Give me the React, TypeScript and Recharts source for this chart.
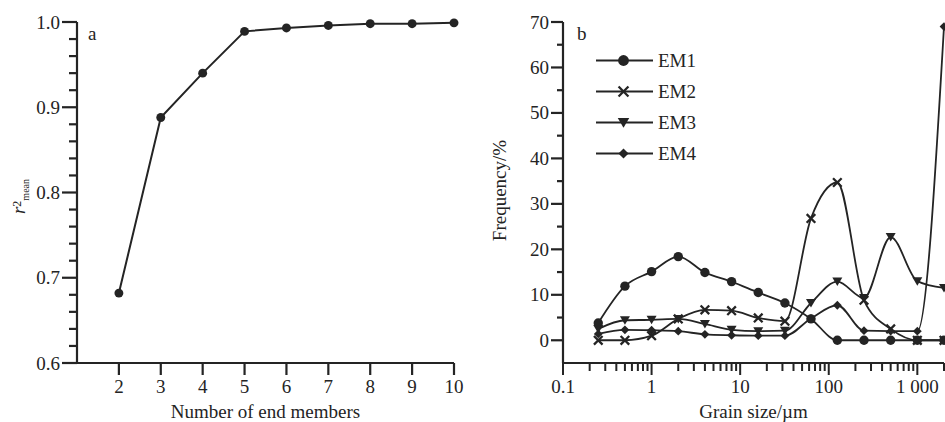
import { Legend, Line, LineChart, XAxis, YAxis } from 'recharts'

const SERIF = '"Liberation Serif", "Times New Roman", serif'
const INK = '#242424'

// panel a: fit quality vs number of end members
const endMembers = [2, 3, 4, 5, 6, 7, 8, 9, 10]
const r2Mean = [0.682, 0.888, 0.94, 0.989, 0.993, 0.996, 0.998, 0.998, 0.999]
const endMemberTicks = [2, 3, 4, 5, 6, 7, 8, 9, 10]

// panel b: end-member grain size distributions
const grainSizes = [0.25, 0.5, 1, 2, 4, 8, 16, 32, 63, 125, 250, 500, 1000, 2000]
const em1 = [3.8, 11.9, 15.1, 18.4, 14.9, 12.9, 10.5, 8.2, 4.7, 0, 0, 0, 0, 0]
const em2 = [0, 0, 1.0, 4.7, 6.7, 6.5, 4.9, 4.2, 26.8, 34.7, 8.8, 2.5, 0, 0]
const em3 = [2.5, 4.4, 4.5, 4.7, 3.6, 2.3, 2.0, 2.1, 8.2, 12.9, 9.3, 22.7, 13.0, 11.5]
const em4 = [1.4, 2.3, 2.2, 2.0, 1.3, 1.1, 1.0, 1.0, 4.8, 7.7, 2.1, 2.0, 2.0, 69.0]
const freqTicks = [0, 5, 10, 15, 20, 25, 30, 35, 40, 45, 50, 55, 60, 65, 70]
const sizeDecades = [0.1, 1, 10, 100, 1000]
const sizeLabels = ['0.1', '1', '10', '100', '1 000']

const series = [
  { key: 'em1', name: 'EM1', values: em1, shape: 'circle' },
  { key: 'em2', name: 'EM2', values: em2, shape: 'cross' },
  { key: 'em3', name: 'EM3', values: em3, shape: 'triangle' },
  { key: 'em4', name: 'EM4', values: em4, shape: 'diamond' },
]

const fitData = endMembers.map((n, i) => ({ n, r2: r2Mean[i] }))
const gsData = grainSizes.map((size, i) => {
  const row: Record<string, number> = { size }
  series.forEach((s) => (row[s.key] = s.values[i]))
  return row
})

// minor ticks every 0.02 on panel a
const r2Ticks: number[] = []
for (let k = 0; k <= 20; k++) r2Ticks.push(Math.round((0.6 + k * 0.02) * 100) / 100)

// log ticks 1..9 per decade on panel b
const sizeTicks: number[] = []
sizeDecades.forEach((d) => {
  for (let m = 1; m <= 9; m++) if (d * m <= 2000) sizeTicks.push(d * m)
})

function Marker({ shape, cx, cy, s = 1 }: { shape: string; cx: number; cy: number; s?: number }) {
  if (cx == null || cy == null) return null
  if (shape === 'circle') return <circle cx={cx} cy={cy} r={4.7 * s} fill={INK} />
  if (shape === 'cross') {
    const d = 4.3 * s
    return (
      <path
        d={`M${cx - d},${cy - d}L${cx + d},${cy + d}M${cx - d},${cy + d}L${cx + d},${cy - d}`}
        stroke={INK}
        strokeWidth={2.3}
        fill="none"
      />
    )
  }
  if (shape === 'triangle')
    return <path d={`M${cx - 5 * s},${cy - 4 * s}L${cx + 5 * s},${cy - 4 * s}L${cx},${cy + 4.5 * s}Z`} fill={INK} />
  const d = 4.4 * s
  return <path d={`M${cx},${cy - d}L${cx + d},${cy}L${cx},${cy + d}L${cx - d},${cy}Z`} fill={INK} />
}

function R2Tick(p: any) {
  const x = Number(p.x)
  const y = Number(p.y)
  const v = p.payload.value
  const major = Math.round(v * 100) % 10 === 0
  const len = major ? 15 : 8
  return (
    <g>
      <rect x={x - len} y={y - 1.1} width={len} height={2.2} fill={INK} />
      {major && (
        <text x={x - 17} y={y + 6.5} textAnchor="end" fontSize={19} fontFamily={SERIF} fill={INK}>
          {v.toFixed(1)}
        </text>
      )}
    </g>
  )
}

function CountTick(p: any) {
  const x = Number(p.x)
  const y = Number(p.y)
  return (
    <g>
      <rect x={x - 1.1} y={y} width={2.2} height={12} fill={INK} />
      <text x={x} y={y + 30} textAnchor="middle" fontSize={19} fontFamily={SERIF} fill={INK}>
        {p.payload.value}
      </text>
    </g>
  )
}

function FreqTick(p: any) {
  const x = Number(p.x)
  const y = Number(p.y)
  const v = p.payload.value
  const major = v % 10 === 0
  const len = major ? 12 : 6
  return (
    <g>
      <rect x={x - len} y={y - 1.1} width={len} height={2.2} fill={INK} />
      {major && (
        <text x={x - 14} y={y + 6.5} textAnchor="end" fontSize={19} fontFamily={SERIF} fill={INK}>
          {v}
        </text>
      )}
    </g>
  )
}

function SizeTick(p: any) {
  const x = Number(p.x)
  const y = Number(p.y)
  const v = p.payload.value
  const idx = sizeDecades.findIndex((d) => Math.abs(v / d - 1) < 1e-9)
  const major = idx >= 0
  return (
    <g>
      <rect x={x - 1} y={y} width={2} height={major ? 12 : 8} fill={INK} />
      {major && (
        <text x={x} y={y + 30} textAnchor="middle" fontSize={19} fontFamily={SERIF} fill={INK}>
          {sizeLabels[idx]}
        </text>
      )}
    </g>
  )
}

function XTitle({ viewBox, text }: any) {
  const vb = viewBox ?? { x: 0, y: 0, width: 0 }
  return (
    <text x={vb.x + vb.width / 2} y={vb.y + 55} textAnchor="middle" fontSize={19} fontFamily={SERIF} fill={INK}>
      {text}
    </text>
  )
}

function R2Title({ viewBox }: any) {
  const vb = viewBox ?? { x: 0, y: 0, height: 0 }
  const x = vb.x + 8
  const y = vb.y + vb.height / 2 + 4
  return (
    <text x={x} y={y} transform={`rotate(-90, ${x}, ${y})`} textAnchor="middle" fontFamily={SERIF} fill={INK}>
      <tspan fontSize={19} fontStyle="italic">r</tspan>
      <tspan fontSize={12} dy={-4}>2</tspan>
      <tspan fontSize={10} dy={8}>mean</tspan>
    </text>
  )
}

function FreqTitle({ viewBox }: any) {
  const vb = viewBox ?? { x: 0, y: 0, height: 0 }
  const x = vb.x + 3
  const y = vb.y + vb.height / 2 - 2
  return (
    <text x={x} y={y} transform={`rotate(-90, ${x}, ${y})`} textAnchor="middle" fontSize={19} fontFamily={SERIF} fill={INK}>
      Frequency/%
    </text>
  )
}

function LegendBox() {
  return (
    <div style={{ fontFamily: SERIF }}>
      {series.map((s) => (
        <div key={s.key} style={{ display: 'flex', alignItems: 'center', height: 31 }}>
          <svg width={57} height={31} style={{ display: 'block' }}>
            <line x1={0} x2={57} y1={15.5} y2={15.5} stroke={INK} strokeWidth={2} />
            <Marker shape={s.shape} cx={27.5} cy={15.5} s={1.15} />
          </svg>
          <span style={{ marginLeft: 5, fontSize: 19, color: INK, lineHeight: '19px' }}>{s.name}</span>
        </div>
      ))}
    </div>
  )
}

function PanelA() {
  return (
    <LineChart width={470} height={422} data={fitData} margin={{ top: 22, right: 16, bottom: 19, left: 17 }}>
      <XAxis
        dataKey="n"
        type="number"
        domain={[1, 10]}
        ticks={endMemberTicks}
        interval={0}
        height={40}
        tickSize={0}
        tickMargin={0}
        tickLine={false}
        axisLine={{ stroke: INK, strokeWidth: 2.2 }}
        tick={(p: any) => <CountTick {...p} />}
        label={<XTitle text="Number of end members" />}
      />
      <YAxis
        type="number"
        domain={[0.6, 1.0]}
        ticks={r2Ticks}
        interval={0}
        width={60}
        tickSize={0}
        tickMargin={0}
        tickLine={false}
        axisLine={{ stroke: INK, strokeWidth: 2.2 }}
        tick={(p: any) => <R2Tick {...p} />}
        label={<R2Title />}
      />
      <Line
        dataKey="r2"
        type="linear"
        stroke={INK}
        strokeWidth={2}
        isAnimationActive={false}
        activeDot={false}
        dot={(p: any) => <Marker key={p.index} shape="circle" cx={p.cx} cy={p.cy} s={0.95} />}
      />
    </LineChart>
  )
}

function PanelB() {
  return (
    <LineChart width={475} height={422} data={gsData} margin={{ top: 22, right: 1, bottom: 19, left: 33 }}>
      <XAxis
        dataKey="size"
        type="number"
        scale="log"
        domain={[0.1, 2000]}
        ticks={sizeTicks}
        interval={0}
        height={40}
        tickSize={0}
        tickMargin={0}
        tickLine={false}
        axisLine={{ stroke: INK, strokeWidth: 2.2 }}
        tick={(p: any) => <SizeTick {...p} />}
        label={<XTitle text="Grain size/µm" />}
      />
      <YAxis
        type="number"
        domain={[-5, 70]}
        ticks={freqTicks}
        interval={0}
        width={60}
        tickSize={0}
        tickMargin={0}
        tickLine={false}
        axisLine={{ stroke: INK, strokeWidth: 2.2 }}
        tick={(p: any) => <FreqTick {...p} />}
        label={<FreqTitle />}
      />
      <Legend
        layout="vertical"
        align="center"
        verticalAlign="middle"
        wrapperStyle={{ left: 126, top: 45, width: 110, height: 124 }}
        content={() => <LegendBox />}
      />
      {series.map((s) => (
        <Line
          key={s.key}
          dataKey={s.key}
          name={s.name}
          type="monotone"
          stroke={INK}
          strokeWidth={1.8}
          isAnimationActive={false}
          activeDot={false}
          dot={(p: any) => <Marker key={p.index} shape={s.shape} cx={p.cx} cy={p.cy} />}
        />
      ))}
    </LineChart>
  )
}

export default function App() {
  return (
    <div style={{ position: 'absolute', left: 0, top: 0, width: 945, height: 422, background: '#fff', overflow: 'hidden' }}>
      <div style={{ position: 'absolute', left: 0, top: 0 }}>
        <PanelA />
      </div>
      <div style={{ position: 'absolute', left: 470, top: 0 }}>
        <PanelB />
      </div>
      <div style={{ position: 'absolute', left: 88, top: 24, fontFamily: SERIF, fontSize: 19, lineHeight: '19px', color: INK }}>a</div>
      <div style={{ position: 'absolute', left: 577, top: 24, fontFamily: SERIF, fontSize: 19, lineHeight: '19px', color: INK }}>b</div>
    </div>
  )
}
